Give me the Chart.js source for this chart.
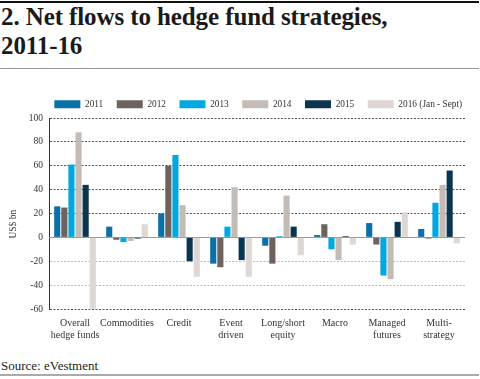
<!DOCTYPE html>
<html><head><meta charset="utf-8">
<script src="https://cdn.jsdelivr.net/npm/chart.js@4"></script>
<style>
html,body{margin:0;padding:0;background:#fff;width:480px;height:379px;overflow:hidden;position:relative;font-family:"Liberation Serif",serif;}
#topline{position:absolute;left:0;top:1px;width:479px;height:2px;background:#111;}
#title{position:absolute;left:1px;top:2px;font-weight:bold;font-size:25px;line-height:29px;color:#1a1a1a;letter-spacing:-0.1px;}
#rule{position:absolute;left:0;top:68px;width:479px;height:1px;background:#999;}
#wrap{position:absolute;left:0;top:86px;width:480px;height:264px;}
#source{position:absolute;left:1px;top:358px;font-size:13px;color:#222;}
#botline{position:absolute;left:0;top:374px;width:479px;height:2px;background:#aaa;}
</style></head>
<body>
<div id="topline"></div>
<div id="title">2. Net flows to hedge fund strategies,<br>2011-16</div>
<div id="rule"></div>
<div id="wrap"><canvas id="c" width="480" height="264"></canvas></div>
<div id="source">Source: eVestment</div>
<div id="botline"></div>
<script>
const categories = [["Overall","hedge funds"],"Commodities","Credit",["Event","driven"],["Long/short","equity"],"Macro",["Managed","futures"],["Multi-","strategy"]];
const seriesNames = ["2011","2012","2013","2014","2015","2016 (Jan - Sept)"];
const v2011 = [26, 9, 20, -22, -7, 2, 12, 7];
const v2012 = [25, -2, 60, -25, -22, 11, -6, -1];
const v2013 = [61, -4, 69, 9, 1, -10, -32, 29];
const v2014 = [88, -3, 27, 42, 35, -19, -35, 44];
const v2015 = [44, -1, -20, -19, 9, 1, 13, 56];
const v2016 = [-60, 11, -33, -33, -15, -6, 21, -5];
const yTicks = [100, 80, 60, 40, 20, 0, -20, -40, -60];
const colors = ["#0b6fa8","#6d625d","#00a8df","#c4bbb4","#0a3450","#ded7d3"];

const allSeries = [v2011, v2012, v2013, v2014, v2015, v2016];
const datasets = allSeries.map((d,i)=>({label:seriesNames[i],data:d,backgroundColor:colors[i],borderWidth:0,categoryPercentage:0.82,barPercentage:0.86}));

const zeroLine = {
  id:'zeroLine',
  beforeDatasetsDraw(chart){
    const y = chart.scales.y, a = chart.chartArea, ctx = chart.ctx;
    const py = Math.round(y.getPixelForValue(0)) + 0.5;
    ctx.save(); ctx.strokeStyle = '#999'; ctx.lineWidth = 1; ctx.setLineDash([]);
    ctx.beginPath(); ctx.moveTo(a.left, py); ctx.lineTo(a.right, py); ctx.stroke(); ctx.restore();
  }
};
const legendFix = {
  id:'legendFix',
  beforeInit(chart){
    const orig = chart.legend.fit;
    chart.legend.fit = function(){ this.maxWidth = Math.max(this.maxWidth, 480); orig.call(this); this.height = 32; };
  },
  afterLayout(chart){
    const lg = chart.legend;
    lg.left = 36.5; lg.right = 480; lg.width = lg.right - lg.left;
  }
};
Chart.defaults.font.family = '"Liberation Serif", serif';
Chart.defaults.color = '#333';
new Chart(document.getElementById('c'), {
  type:'bar',
  data:{labels:categories, datasets},
  plugins:[zeroLine, legendFix],
  options:{
    responsive:false, animation:false,
    layout:{padding:{left:0,right:15,top:0,bottom:0}},
    plugins:{
      legend:{position:'top',fullSize:false,labels:{boxWidth:26,boxHeight:8,padding:13.5,font:{size:9.3},color:'#333'}},
      tooltip:{enabled:false}
    },
    scales:{
      x:{
        grid:{display:false,drawTicks:false},
        border:{display:false},
        ticks:{maxRotation:0,autoSkip:false,padding:8,font:{size:10},color:'#333'},
        afterFit(s){ s.height = 41; }
      },
      y:{
        min:-60,max:100,
        afterBuildTicks(s){ s.ticks = yTicks.map(v=>({value:v})); },
        grid:{drawTicks:false,color:(c)=>{const v=c.tick&&c.tick.value; if(v===0) return 'rgba(0,0,0,0)'; if(v===-20||v===-40) return '#bbb'; return '#555';}},
        border:{display:true,color:'#333',width:1,dash:[2,1.5]},
        ticks:{padding:6,font:{size:9.5},color:'#333'},
        title:{display:true,text:'US$ bn\u00a0\u00a0\u00a0\u00a0\u00a0\u00a0\u00a0\u00a0\u00a0',font:{size:9.5},color:'#333',padding:{top:8,bottom:0}},
        afterFit(s){ s.width = 49; }
      }
    }
  }
});
</script>
</body></html>
